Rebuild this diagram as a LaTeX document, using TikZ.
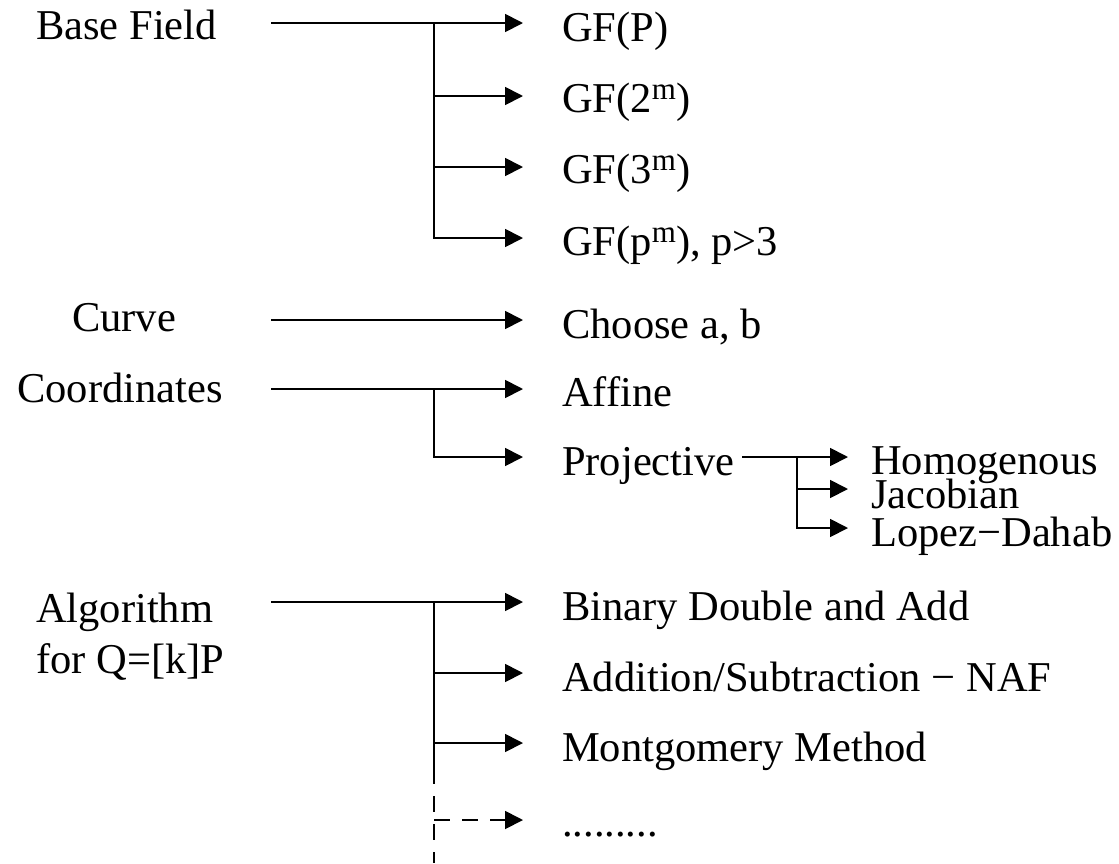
\documentclass[tikz,border=0pt]{standalone}
\usepackage{fontspec}
\setmainfont{Liberation Serif}
\usetikzlibrary{arrows.meta}
\newcommand\supm{\raisebox{13pt}{\fontsize{31}{31}\selectfont m}}
\begin{document}
\begin{tikzpicture}[x=1pt,y=-1pt,
  lbl/.style={anchor=base west, inner sep=0pt, font=\fontsize{42.5}{48}\selectfont},
  conn/.style={line width=1.8pt},
  arr/.style={conn, -{Triangle[length=18pt,width=18pt]}},
  dpat/.style={dash pattern=on 16pt off 12pt}]
\useasboundingbox (0,0) rectangle (1119,863);

% labels
\node[lbl] (bf)   at (36,39)   {Base Field};
\node[lbl] (gfp)  at (562,41)  {GF(P)};
\node[lbl] (gf2)  at (562,112) {GF(2\supm)};
\node[lbl] (gf3)  at (562,183) {GF(3\supm)};
\node[lbl] (gfpm) at (562,255) {GF(p\supm), p>3};
\node[lbl] (cv)   at (72,331)  {Curve};
\node[lbl] (ch)   at (562,338) {Choose a, b};
\node[lbl] (co)   at (17,402)  {Coordinates};
\node[lbl] (af)   at (562,406) {Affine};
\node[lbl] (pr)   at (562,475) {Projective};
\node[lbl] (ho)   at (871,474) {Homogenous};
\node[lbl] (ja)   at (871,508) {Jacobian};
\node[lbl] (lo)   at (871,546) {Lopez−Dahab};
\node[lbl] (al)   at (36,622)  {Algorithm};
\node[lbl] (fq)   at (36,673)  {for Q=[k]P};
\node[lbl] (bd)   at (562,620) {Binary Double and Add};
\node[lbl] (as)   at (562,691) {Addition/Subtraction − NAF};
\node[lbl] (mm)   at (562,761) {Montgomery Method};
\node[lbl] (dt)   at (562,836) {.........};

% base field
\coordinate (s1) at (271,23);
\coordinate (j1) at (434,23);
\coordinate (t1) at (523,23);
\coordinate (t2) at (523,96);
\coordinate (t3) at (523,167);
\coordinate (t4) at (523,238);
\draw[arr] (s1) -- (t1);
\draw[arr] (j1) |- (t4);
\draw[arr] (j1 |- t2) -- (t2);
\draw[arr] (j1 |- t3) -- (t3);

% curve
\coordinate (s2) at (271,320);
\coordinate (t5) at (523,320);
\draw[arr] (s2) -- (t5);

% coordinates
\coordinate (s3) at (271,389);
\coordinate (j3) at (434,389);
\coordinate (t6) at (523,389);
\coordinate (t7) at (523,457);
\draw[arr] (s3) -- (t6);
\draw[arr] (j3) |- (t7);

% projective sub-branch
\coordinate (ps)  at (742,457);
\coordinate (pj)  at (797,457);
\coordinate (pt1) at (848,457);
\coordinate (pt2) at (848,489);
\coordinate (pt3) at (848,528);
\draw[arr] (ps) -- (pt1);
\draw[arr] (pj) |- (pt3);
\draw[arr] (pj |- pt2) -- (pt2);

% algorithm
\coordinate (s4) at (271,602);
\coordinate (j4) at (434,602);
\coordinate (t8) at (523,602);
\coordinate (t9) at (523,673);
\coordinate (t10) at (523,743);
\coordinate (t11) at (523,820);
\coordinate (jd) at (434,768);
\coordinate (jb) at (434,863);
\draw[arr] (s4) -- (t8);
\draw[conn] (j4) -- (jd);
\draw[conn, dpat] (jd) -- (jb);
\draw[arr] (j4 |- t9) -- (t9);
\draw[arr] (j4 |- t10) -- (t10);
\draw[arr, dpat] (j4 |- t11) -- (t11);
\end{tikzpicture}
\end{document}
